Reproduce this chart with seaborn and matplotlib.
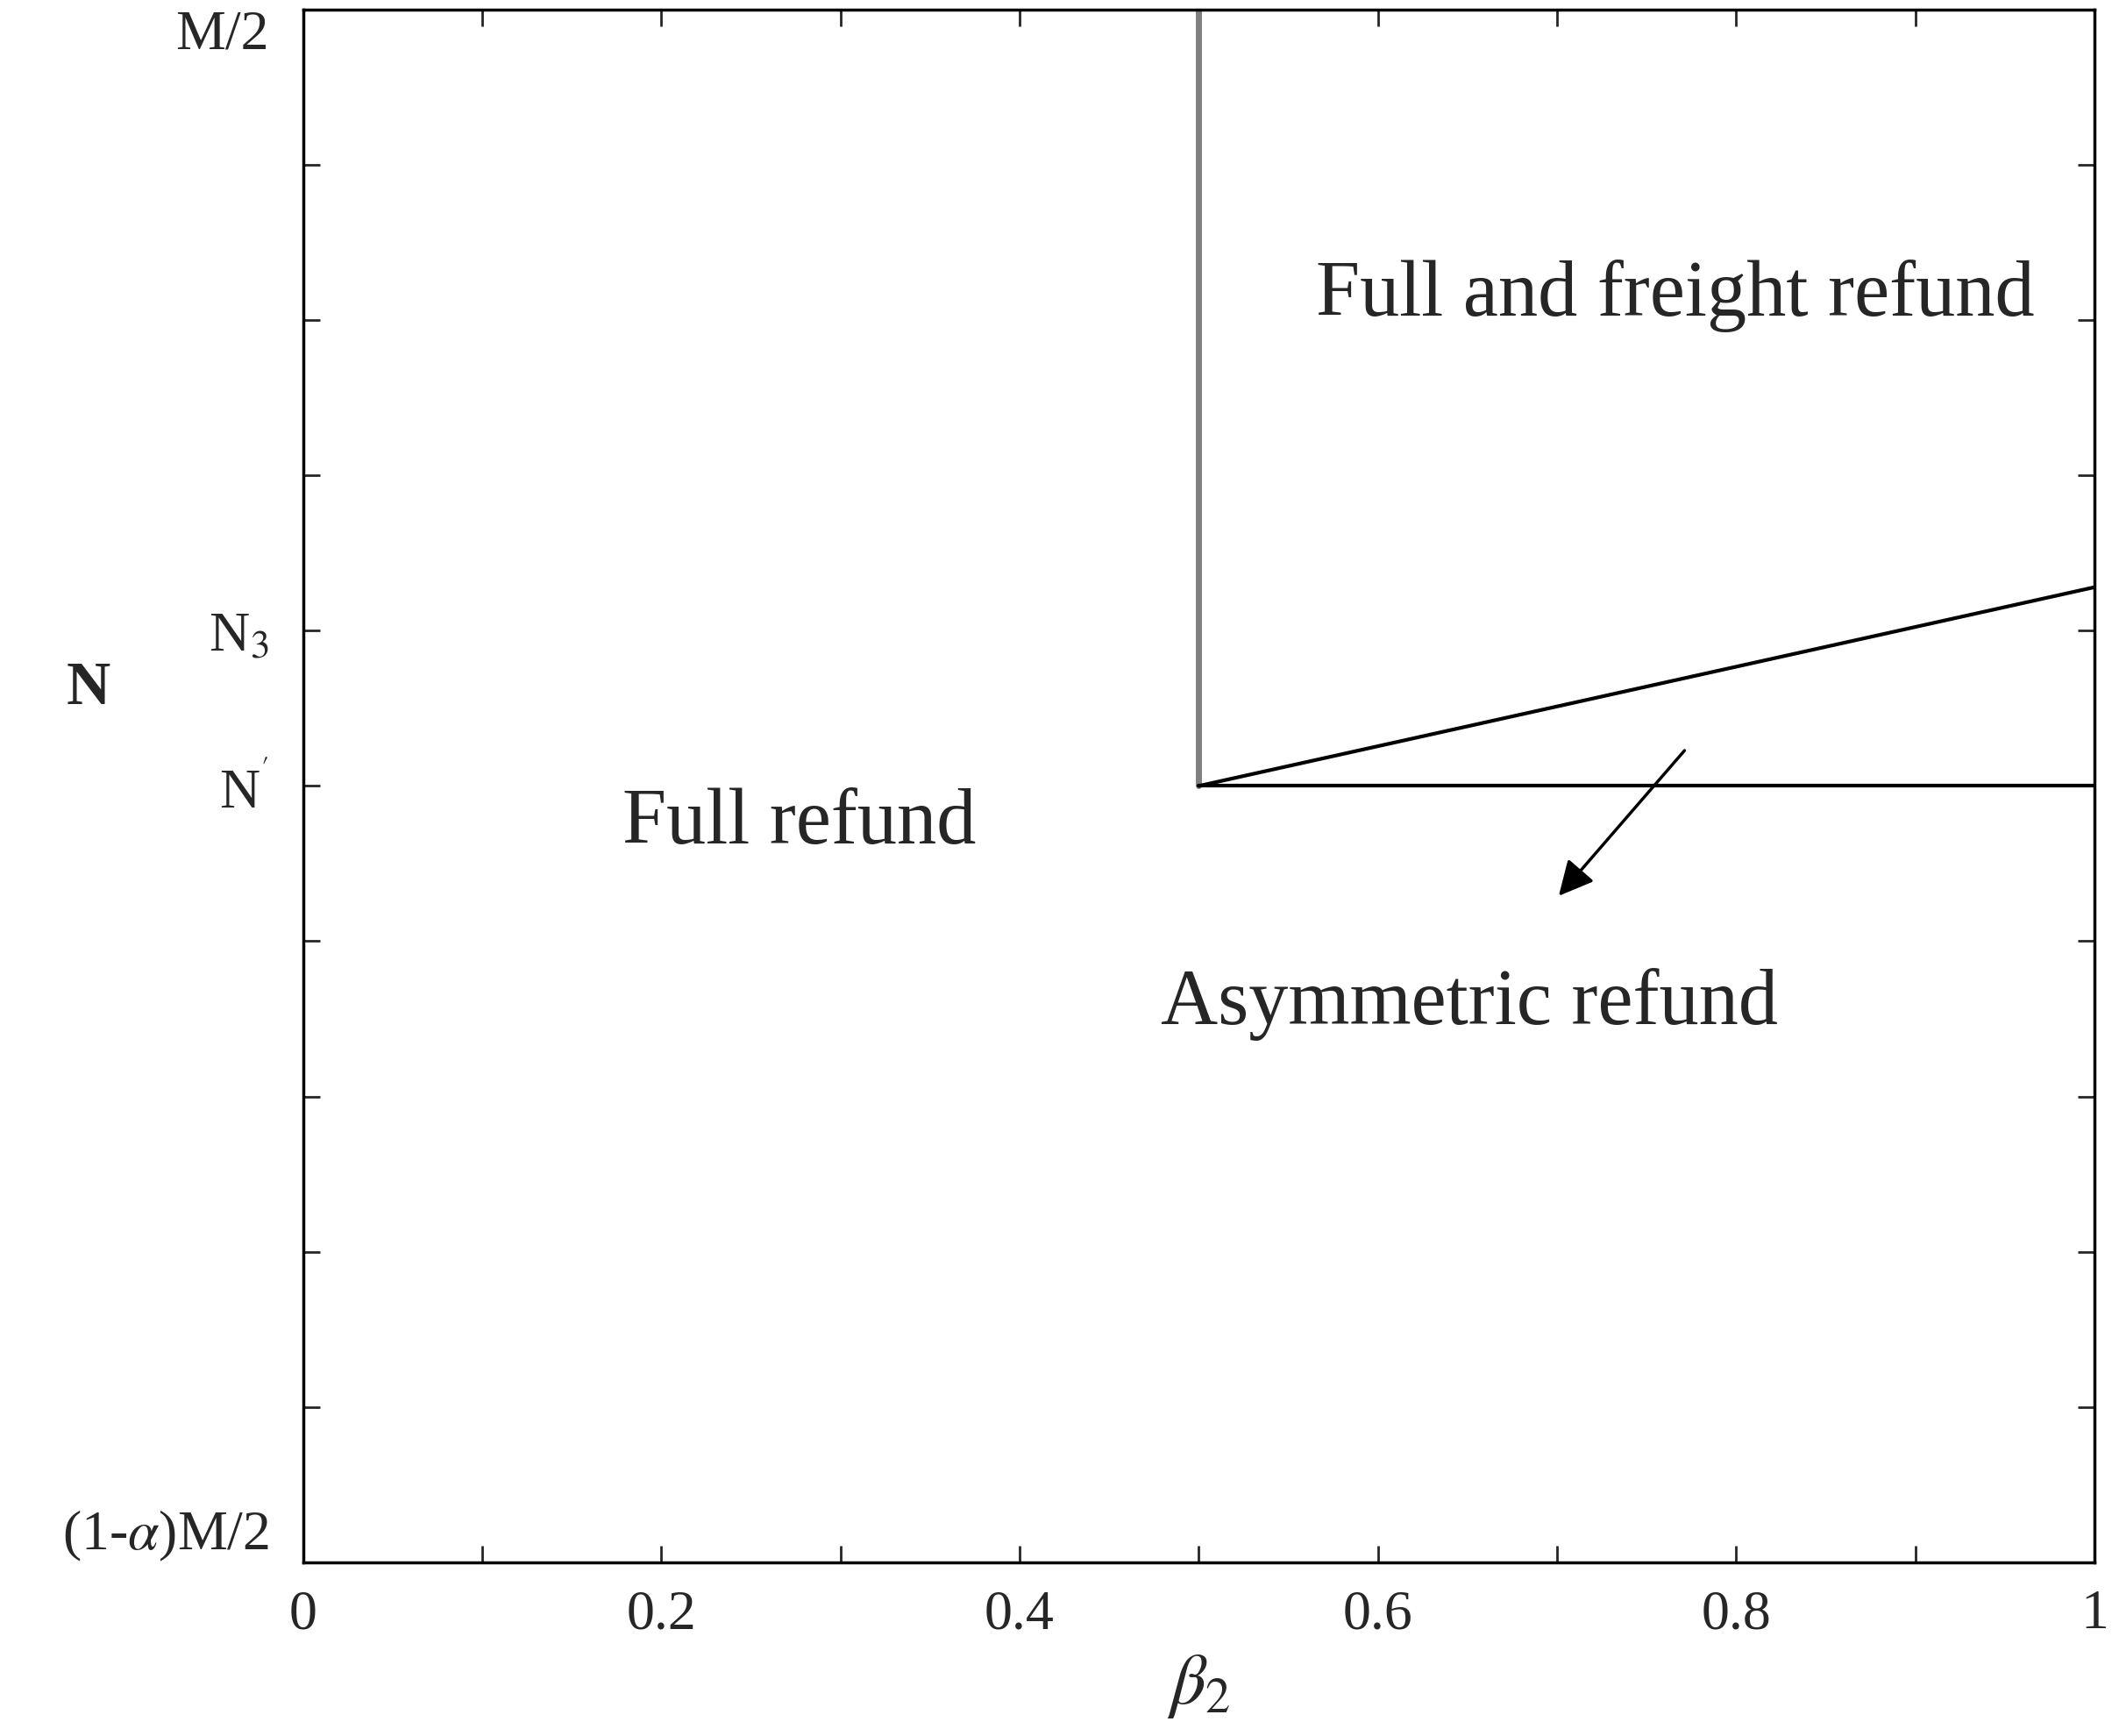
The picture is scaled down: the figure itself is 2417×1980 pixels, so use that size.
import matplotlib
matplotlib.use("Agg")
import matplotlib.pyplot as plt
import pandas as pd
import seaborn as sns

sns.set_theme(style="white")
plt.rcParams["font.family"] = ["Liberation Serif", "DejaVu Serif"]
plt.rcParams["mathtext.fontset"] = "stix"

# boundary segments (beta2, N level in tick units, 0 = (1-a)M/2, 10 = M/2)
vert_x = [0.5, 0.5]
vert_y = [5.0, 10.0]
horiz_x = [0.5, 1.0]
horiz_y = [5.0, 5.0]
diag_x = [0.5, 1.0]
diag_y = [5.0, 6.28]

ytick_pos = [0, 5, 6, 10]
ytick_labels = [r"(1-$\alpha$)M/2", "N$^{'}$", "N$_3$", "M/2"]
xtick_pos = [0, 0.2, 0.4, 0.6, 0.8, 1.0]
xtick_labels = ["0", "0.2", "0.4", "0.6", "0.8", "1"]

fig = plt.figure(figsize=(24.17, 19.81), dpi=100)
ax = fig.add_axes([0.143, 0.1, 0.8455, 0.894])

sns.lineplot(x=vert_x, y=vert_y, color="#808080", linewidth=5, ax=ax, sort=False, estimator=None)
sns.lineplot(x=horiz_x, y=horiz_y, color="black", linewidth=3, ax=ax, sort=False, estimator=None)
sns.lineplot(x=diag_x, y=diag_y, color="black", linewidth=3, ax=ax, sort=False, estimator=None)

ax.annotate("", xy=(0.70, 4.28), xytext=(0.772, 5.24),
            arrowprops=dict(arrowstyle="-|>", color="black", lw=2.5, mutation_scale=60))

ax.text(0.766, 8.16, "Full and freight refund", fontsize=65, ha="center", va="center")
ax.text(0.277, 4.76, "Full refund", fontsize=65, ha="center", va="center")
ax.text(0.651, 3.6, "Asymmetric refund", fontsize=65, ha="center", va="center")

ax.set_xlim(0, 1)
ax.set_ylim(0, 10)
ax.set_xticks([i / 10 for i in range(11)], minor=True)
ax.set_yticks(range(11), minor=True)
ax.set_xticks(xtick_pos)
ax.set_xticklabels(xtick_labels)
ax.set_yticks(ytick_pos)
ax.set_yticklabels(ytick_labels)
ax.tick_params(which="both", direction="in", bottom=True, left=True, top=True, right=True,
               length=14, width=2, labelsize=46, pad=22)
ax.tick_params(axis="y", pad=28)
ylabs = ax.get_yticklabels()
ylabs[-1].set_va("top")
ylabs[0].set_va("bottom")
for s in ax.spines.values():
    s.set_linewidth(2.5)
    s.set_color("black")

ax.set_xlabel(r"$\beta_2$", fontsize=58, labelpad=10)
ax.set_ylabel("N", fontsize=50, fontweight="bold", rotation=0, labelpad=60)
ax.yaxis.set_label_coords(-0.12, 0.545)

fig.savefig("out.png", dpi=100)
